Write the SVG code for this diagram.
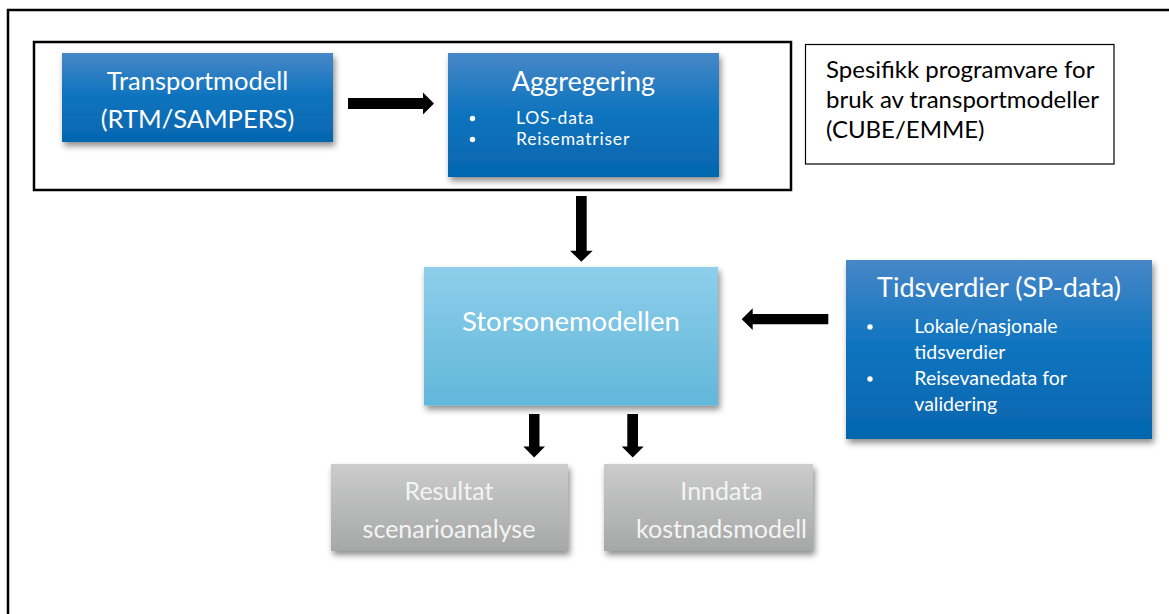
<svg xmlns="http://www.w3.org/2000/svg" width="1169" height="614" viewBox="0 0 1169 614">
<defs>
<linearGradient id="gBlue" x1="0" y1="0" x2="0" y2="1">
<stop offset="0" stop-color="#4787C7"/>
<stop offset="0.5" stop-color="#0C73BE"/>
<stop offset="1" stop-color="#0566AE"/>
</linearGradient>
<linearGradient id="gLight" x1="0" y1="0" x2="0" y2="1">
<stop offset="0" stop-color="#8ECEEA"/>
<stop offset="1" stop-color="#62B7DB"/>
</linearGradient>
<linearGradient id="gGray" x1="0" y1="0" x2="0" y2="1">
<stop offset="0" stop-color="#CBCCCB"/>
<stop offset="1" stop-color="#A6A7A7"/>
</linearGradient>
<filter id="shadow" x="-10%" y="-10%" width="125%" height="130%">
<feDropShadow dx="2" dy="4" stdDeviation="3" flood-color="#000" flood-opacity="0.45"/>
</filter>
</defs>
<style>
.frame{fill:none;stroke:#000;stroke-width:2.5}
.note{fill:#fff;stroke:#000;stroke-width:1.2}
.t{font-family:Lato,"Open Sans","Liberation Sans",sans-serif;fill:#fff}
.title{font-size:25.5px;text-anchor:middle}
.agg{font-size:27px;text-anchor:middle}
.tid{font-size:27px;text-anchor:middle}
.big{font-size:27.5px;text-anchor:middle}
.bul{font-size:19.5px}
.bs{font-size:17.5px;letter-spacing:0.8px}
.gt{font-size:25px;text-anchor:middle;fill:#F4F4F4}
.nt{font-family:Lato,"Open Sans","Liberation Sans",sans-serif;font-size:24px;fill:#000}
.arrow{fill:#000}
</style>
<rect width="1169" height="614" fill="#fff"/>
<path class="frame" d="M8,614 V10 H1169"/>
<rect class="frame" x="34" y="42" width="757" height="148"/>

<g id="connectors">
<polygon class="arrow" points="348,98 423,98 423,92.5 434,103.5 423,114.5 423,109 348,109"/>
<polygon class="arrow" points="576,196 586.7,196 586.7,250.7 592.7,250.7 581.3,261.7 570,250.7 576,250.7"/>
<polygon class="arrow" points="828.3,314 752.7,314 752.7,308.3 741.7,319.2 752.7,330 752.7,324.3 828.3,324.3"/>
<polygon class="arrow" points="529,414 539.5,414 539.5,446.5 545,446.5 534.2,457.5 523.3,446.5 529,446.5"/>
<polygon class="arrow" points="627.3,414 638,414 638,446.5 643.7,446.5 632.7,457.5 621.7,446.5 627.3,446.5"/>
</g>

<g id="transportmodell">
<rect x="62" y="53" width="271" height="89" fill="url(#gBlue)" filter="url(#shadow)"/>
<text class="t title" x="197.5" y="89.5">Transportmodell</text>
<text class="t title" x="197.5" y="127.5">(RTM/SAMPERS)</text>
</g>

<g id="aggregering">
<rect x="448" y="53" width="271" height="124" fill="url(#gBlue)" filter="url(#shadow)"/>
<text class="t agg" x="583.5" y="91">Aggregering</text>
<circle cx="472.5" cy="118.5" r="2.7" fill="#fff"/>
<text class="t bs" x="516" y="124.2">LOS-data</text>
<circle cx="472.5" cy="139.5" r="2.7" fill="#fff"/>
<text class="t bs" x="516" y="145.2">Reisematriser</text>
</g>

<g id="spesifikk">
<rect class="note" x="805.5" y="44.5" width="308.5" height="119.5"/>
<text class="nt" x="826" y="77.5">Spesifikk programvare for</text>
<text class="nt" x="826" y="107.5">bruk av transportmodeller</text>
<text class="nt" x="826" y="137.5">(CUBE/EMME)</text>
</g>

<g id="storsonemodellen">
<rect x="424" y="267" width="294" height="138.5" fill="url(#gLight)" filter="url(#shadow)"/>
<text class="t big" x="571" y="330.7">Storsonemodellen</text>
</g>

<g id="tidsverdier">
<rect x="846" y="260" width="306" height="179" fill="url(#gBlue)" filter="url(#shadow)"/>
<text class="t tid" x="999" y="296.7">Tidsverdier (SP-data)</text>
<circle cx="870" cy="327" r="2.7" fill="#fff"/>
<text class="t bul" x="914.3" y="333.3">Lokale/nasjonale</text>
<text class="t bul" x="914.3" y="359">tidsverdier</text>
<circle cx="870" cy="379" r="2.7" fill="#fff"/>
<text class="t bul" x="914.3" y="385">Reisevanedata for</text>
<text class="t bul" x="914.3" y="410.5">validering</text>
</g>

<g id="resultat">
<rect x="331" y="464" width="237" height="87" fill="url(#gGray)" filter="url(#shadow)"/>
<text class="t gt" x="449" y="500">Resultat</text>
<text class="t gt" x="449" y="538">scenarioanalyse</text>
</g>

<g id="inndata">
<rect x="604" y="464" width="209" height="87" fill="url(#gGray)" filter="url(#shadow)"/>
<text class="t gt" x="721.5" y="500">Inndata</text>
<text class="t gt" x="721.5" y="537.5">kostnadsmodell</text>
</g>
</svg>
